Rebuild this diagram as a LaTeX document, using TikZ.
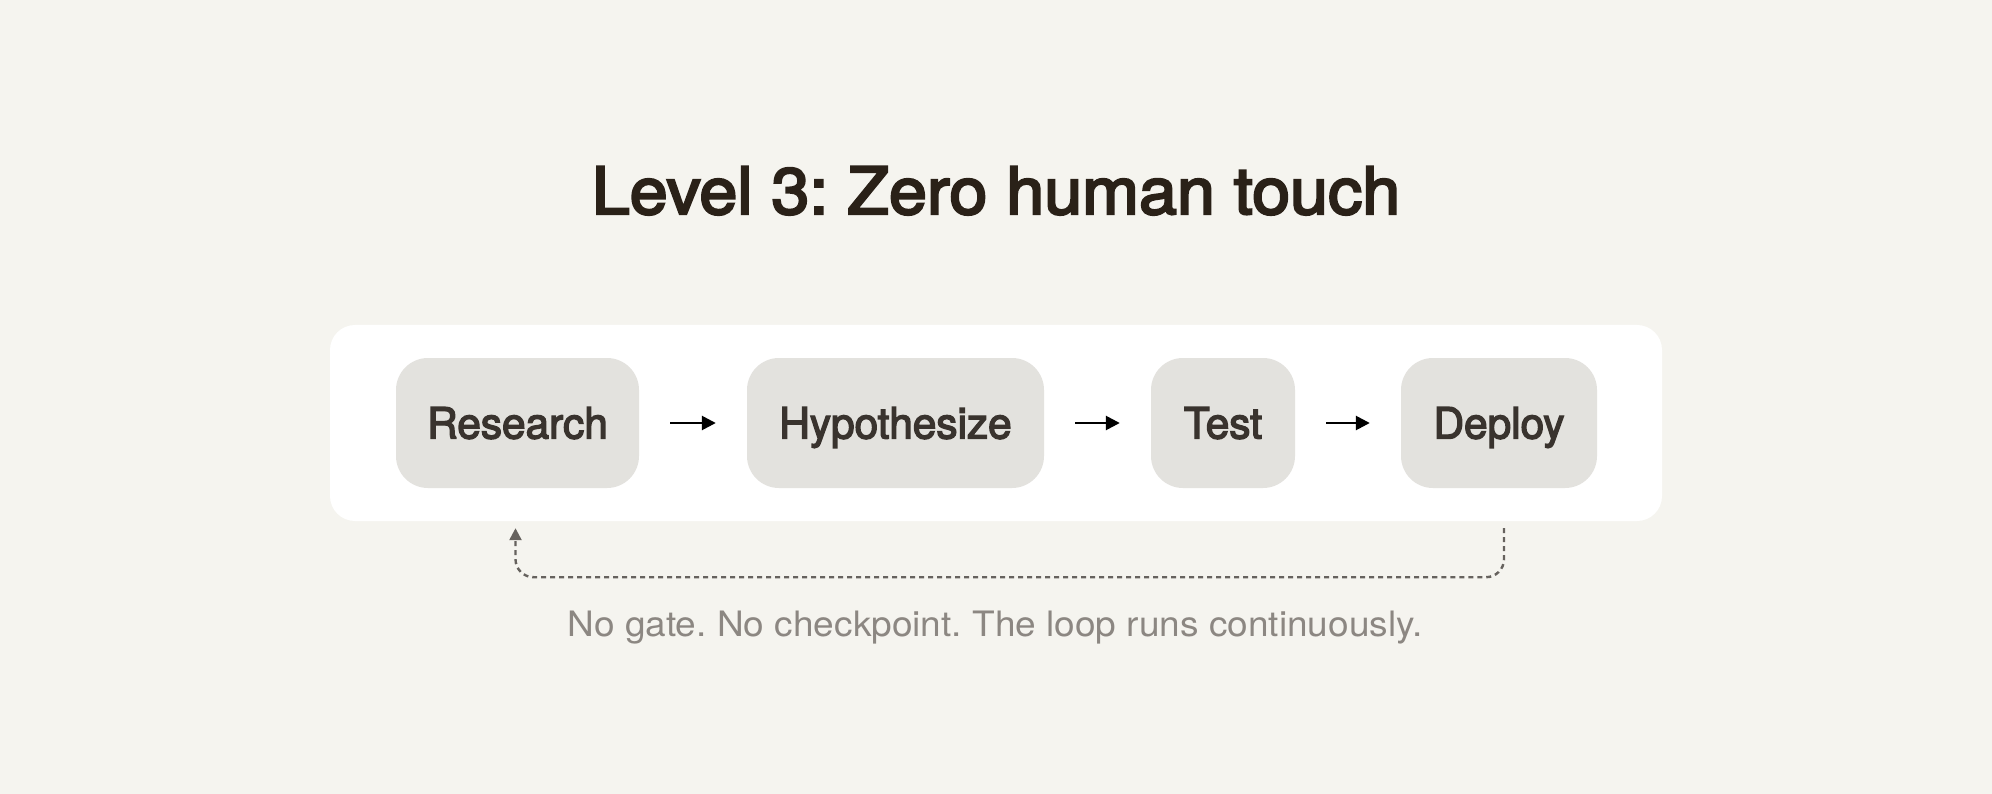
\documentclass[tikz,border=0pt]{standalone}
\usepackage{fontspec}
\setmainfont{TeX Gyre Heros}
\newfontfamily\titlefont[FakeBold=3.5,FakeStretch=1.05]{TeX Gyre Heros}
\newfontfamily\boxfont[FakeBold=3.2,FakeStretch=0.985]{TeX Gyre Heros}
\newfontfamily\capfont[FakeStretch=1.058]{TeX Gyre Heros}
\usetikzlibrary{arrows.meta,calc}
\frenchspacing
\definecolor{bgc}{HTML}{F5F4EF}
\definecolor{boxc}{HTML}{E3E2DE}
\definecolor{boxtxt}{HTML}{39332E}
\definecolor{titletxt}{HTML}{2A2118}
\definecolor{captxt}{HTML}{8C8782}
\definecolor{loopc}{HTML}{66625E}
\tikzset{
  stepbox/.style={fill=boxc, rounded corners=32pt, minimum height=130pt, inner sep=0pt,
    text height=31pt, text depth=0pt, font=\boxfont\fontsize{43}{43}\selectfont, text=boxtxt},
  flowarrow/.style={line width=2.6pt, black, -{Triangle[length=14pt,width=14pt]}, shorten <=31pt, shorten >=31pt},
  loopline/.style={line width=2.4pt, loopc, dash pattern=on 5pt off 4pt, rounded corners=18pt,
    -{Triangle[length=12pt,width=12pt]}}
}
\begin{document}
\begin{tikzpicture}[x=1pt,y=-1pt]
\fill[bgc] (0,0) rectangle (1992,794);
\useasboundingbox (0,0) rectangle (1992,794);
\node[anchor=base, font=\titlefont\fontsize{65}{65}\selectfont, text=titletxt] (title) at (996,214) {Level 3: Zero human touch};
\fill[white, rounded corners=25pt] (330,325) rectangle (1662,521);
\node[stepbox, minimum width=243pt] (research) at (517.5,423) {Research};
\node[stepbox, minimum width=297pt] (hypo) at (895.5,423) {Hypothesize};
\node[stepbox, minimum width=144pt] (test) at (1223,423) {Test};
\node[stepbox, minimum width=196pt] (deploy) at (1499,423) {Deploy};
\draw[flowarrow] (research.east) -- (hypo.west);
\draw[flowarrow] (hypo.east) -- (test.west);
\draw[flowarrow] (test.east) -- (deploy.west);
\coordinate (ls) at ([xshift=5pt,yshift=-40pt]deploy.south);
\coordinate (le) at ([xshift=-2pt,yshift=-40pt]research.south);
\draw[loopline] (ls) -- ([yshift=-49pt]ls) -| (le);
\node[anchor=base, font=\capfont\fontsize{35}{35}\selectfont, text=captxt] (caption) at (995,636) {No gate. No checkpoint. The loop runs continuously.};
\end{tikzpicture}
\end{document}
